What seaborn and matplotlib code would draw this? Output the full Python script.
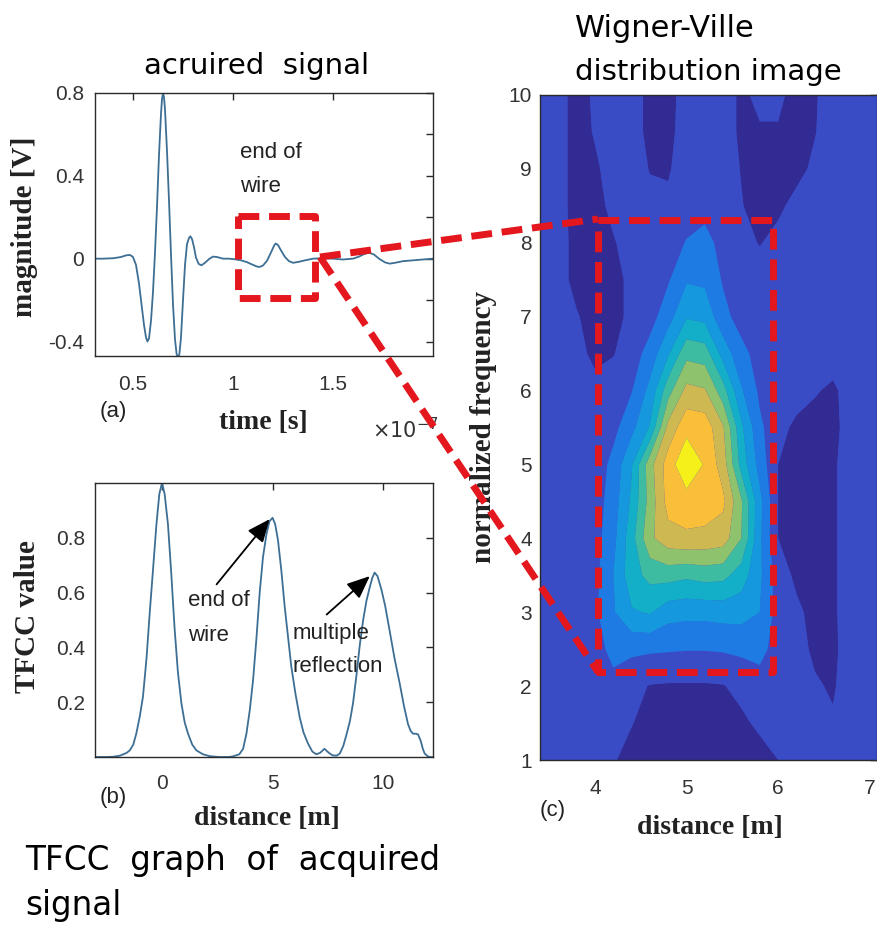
import numpy as np
import matplotlib
matplotlib.use("Agg")
import matplotlib.pyplot as plt
import seaborn as sns
from matplotlib.lines import Line2D

# ---------------- data ----------------
signal_time = [0.31, 0.35, 0.40, 0.44, 0.465, 0.485, 0.50, 0.515, 0.53, 0.545,
               0.555, 0.565, 0.572, 0.58, 0.59, 0.60, 0.61, 0.62, 0.63, 0.64,
               0.645, 0.65, 0.655, 0.66, 0.67, 0.68, 0.69, 0.70, 0.71, 0.718,
               0.725, 0.732, 0.74, 0.75, 0.76, 0.77, 0.78, 0.787, 0.795, 0.805,
               0.815, 0.828, 0.842, 0.86, 0.88, 0.90, 0.92, 0.95, 0.98, 1.01,
               1.04, 1.07, 1.10, 1.12, 1.133, 1.15, 1.17, 1.19, 1.205, 1.213,
               1.225, 1.24, 1.26, 1.28, 1.30, 1.33, 1.36, 1.40, 1.45, 1.50,
               1.55, 1.60, 1.63, 1.655, 1.68, 1.705, 1.73, 1.76, 1.783, 1.81,
               1.85, 1.90, 1.95, 2.00]
signal_mag = [0.0, 0.0, 0.002, 0.008, 0.016, 0.018, 0.008, -0.03, -0.12, -0.24,
              -0.32, -0.38, -0.40, -0.385, -0.30, -0.16, 0.03, 0.25, 0.50, 0.70,
              0.77, 0.80, 0.78, 0.72, 0.52, 0.28, 0.02, -0.22, -0.39, -0.46,
              -0.48, -0.46, -0.38, -0.20, -0.03, 0.07, 0.10, 0.108, 0.095, 0.055,
              0.005, -0.025, -0.032, -0.02, -0.002, 0.01, 0.008, 0.0, 0.0, -0.003,
              -0.008, -0.017, -0.03, -0.038, -0.04, -0.033, -0.01, 0.03, 0.062, 0.073,
              0.066, 0.04, 0.008, -0.012, -0.02, -0.015, -0.008, 0.0, 0.002, 0.0,
              -0.004, 0.0, 0.01, 0.022, 0.029, 0.02, 0.0, -0.018, -0.024, -0.02,
              -0.012, -0.008, -0.004, 0.0]

tfcc_distance = [-3.0, -2.5, -2.2, -1.9, -1.6, -1.46, -1.3, -1.16, -1.0, -0.86,
                 -0.7, -0.56, -0.4, -0.25, -0.12, 0.0, 0.12, 0.27, 0.42, 0.57,
                 0.72, 0.88, 1.03, 1.18, 1.37, 1.56, 1.85, 2.16, 2.6, 3.0,
                 3.2, 3.5, 3.67, 3.82, 3.97, 4.12, 4.27, 4.42, 4.57, 4.72,
                 4.86, 5.0, 5.12, 5.25, 5.4, 5.55, 5.7, 5.85, 6.04, 6.23,
                 6.4, 6.6, 6.8, 6.98, 7.15, 7.35, 7.55, 7.72, 7.9, 8.04,
                 8.2, 8.34, 8.5, 8.64, 8.8, 8.95, 9.1, 9.25, 9.4, 9.52,
                 9.62, 9.75, 9.93, 10.1, 10.3, 10.52, 10.75, 10.95, 11.13, 11.25,
                 11.36, 11.47, 11.58, 11.7, 11.8, 11.88, 12.0, 12.1, 12.25]
tfcc_value = [0.0, 0.0, 0.001, 0.005, 0.015, 0.024, 0.045, 0.086, 0.15, 0.22,
              0.36, 0.52, 0.69, 0.85, 0.96, 1.0, 0.96, 0.85, 0.67, 0.47,
              0.31, 0.195, 0.125, 0.085, 0.045, 0.024, 0.01, 0.003, 0.0, 0.0,
              0.002, 0.01, 0.03, 0.085, 0.17, 0.28, 0.43, 0.6, 0.73, 0.81,
              0.86, 0.873, 0.85, 0.79, 0.68, 0.55, 0.44, 0.33, 0.23, 0.145,
              0.09, 0.05, 0.02, 0.01, 0.015, 0.03, 0.015, 0.006, 0.005, 0.012,
              0.04, 0.08, 0.13, 0.195, 0.3, 0.41, 0.5, 0.57, 0.62, 0.655,
              0.673, 0.66, 0.61, 0.55, 0.46, 0.36, 0.27, 0.185, 0.12, 0.095,
              0.085, 0.085, 0.083, 0.06, 0.03, 0.013, 0.004, 0.0, 0.0]

wv_distance = [3.4, 3.6, 3.8, 4.0, 4.2, 4.4, 4.6, 4.8, 5.0, 5.2,
               5.4, 5.6, 5.8, 6.0, 6.2, 6.4, 6.6, 6.8, 7.1]
wv_frequency = [1.0, 1.5, 2.0, 2.5, 3.0, 3.5, 4.0, 4.5, 5.0, 5.5,
                6.0, 6.5, 7.0, 7.5, 8.0, 8.5, 9.0, 9.5, 10.0]
# contour level index of the Wigner-Ville image (rows: frequency, cols: distance)
wv_level = [
    [1.5, 1.5, 1.5, 1.5, 1.1, 0.6, 0.5, 0.5, 0.5, 0.5, 0.5, 0.5, 0.6, 1.0, 1.5, 1.5, 1.5, 1.5, 1.5],
    [1.5, 1.5, 1.5, 1.5, 1.5, 1.05, 0.6, 0.5, 0.5, 0.5, 0.6, 0.8, 1.2, 1.5, 1.5, 1.5, 1.1, 1.5, 1.5],
    [1.5, 1.5, 1.5, 1.5, 1.7, 1.3, 0.95, 0.9, 0.9, 0.9, 0.95, 1.3, 1.6, 1.6, 1.3, 1.1, 0.9, 1.5, 1.5],
    [1.5, 1.5, 1.5, 1.6, 2.3, 2.2, 2.15, 2.1, 2.05, 2.05, 2.1, 2.2, 2.3, 1.6, 1.3, 0.85, 0.8, 1.5, 1.5],
    [1.5, 1.5, 1.5, 1.8, 2.9, 3.9, 4.1, 3.4, 3.3, 3.3, 3.4, 3.4, 3.0, 1.6, 1.2, 0.7, 0.85, 1.5, 1.5],
    [1.5, 1.5, 1.5, 1.7, 3.0, 4.6, 5.3, 5.4, 5.2, 5.4, 5.3, 4.5, 3.2, 1.5, 0.8, 0.6, 0.85, 1.5, 1.5],
    [1.5, 1.5, 1.5, 1.6, 2.7, 4.6, 6.8, 7.6, 7.8, 7.7, 7.5, 6.0, 3.2, 1.0, 0.6, 0.55, 0.85, 1.5, 1.5],
    [1.5, 1.5, 1.5, 1.5, 2.5, 4.2, 6.4, 8.4, 8.6, 8.6, 8.2, 6.1, 3.3, 1.0, 0.6, 0.55, 0.85, 1.5, 1.5],
    [1.5, 1.5, 1.5, 1.4, 2.3, 3.9, 6.6, 8.5, 9.8, 8.9, 7.5, 4.6, 2.6, 1.0, 0.6, 0.55, 0.85, 1.5, 1.5],
    [1.5, 1.5, 1.5, 1.5, 1.7, 2.7, 4.1, 7.3, 8.7, 8.6, 7.1, 4.2, 2.2, 1.3, 0.8, 0.6, 0.7, 1.5, 1.5],
    [1.5, 1.5, 1.5, 1.4, 1.5, 1.95, 3.3, 5.6, 7.3, 7.1, 5.4, 3.1, 1.8, 1.5, 1.4, 1.1, 0.8, 1.5, 1.5],
    [1.5, 1.5, 1.4, 0.7, 0.95, 1.5, 2.4, 3.9, 5.7, 5.5, 3.6, 2.3, 1.6, 1.5, 1.5, 1.5, 1.5, 1.5, 1.5],
    [1.5, 1.5, 1.1, 0.5, 0.6, 1.3, 1.6, 2.6, 3.9, 3.7, 2.3, 1.6, 1.5, 1.5, 1.5, 1.5, 1.5, 1.5, 1.5],
    [1.5, 1.5, 0.6, 0.45, 0.6, 1.3, 1.6, 1.9, 2.9, 2.8, 1.9, 1.6, 1.5, 1.5, 1.5, 1.5, 1.5, 1.5, 1.5],
    [1.5, 1.5, 0.6, 0.5, 0.9, 1.5, 1.5, 1.6, 2.05, 2.2, 1.8, 1.3, 0.95, 1.3, 1.5, 1.5, 1.5, 1.5, 1.5],
    [1.5, 1.5, 0.5, 0.6, 1.3, 1.5, 1.3, 1.2, 1.6, 1.8, 1.5, 1.05, 0.6, 0.8, 1.3, 1.5, 1.5, 1.5, 1.5],
    [1.5, 1.5, 0.5, 0.8, 1.5, 1.5, 0.95, 0.9, 1.5, 1.5, 1.5, 0.95, 0.6, 0.6, 0.7, 1.2, 1.5, 1.5, 1.5],
    [1.5, 1.5, 0.5, 1.1, 1.5, 1.5, 0.7, 0.7, 1.5, 1.5, 1.5, 0.8, 0.9, 0.9, 0.6, 0.95, 1.5, 1.5, 1.5],
    [1.5, 1.5, 0.5, 1.2, 1.5, 1.5, 0.7, 0.6, 1.5, 1.5, 1.5, 0.8, 1.25, 1.25, 0.6, 0.9, 1.5, 1.5, 1.5],
]
band_colors = ["#332b94", "#3a4bc6", "#1f7be4", "#1598dd", "#13afc9",
               "#3ebca2", "#8ec26c", "#cdb851", "#f9bf38", "#f5f01a"]

signal_yticks = [-0.4, -0.2, 0.0, 0.2, 0.4, 0.6, 0.8]
signal_yticklabels = ["-0.4", "", "0", "", "0.4", "", "0.8"]
signal_xticks = [0.5, 1.0, 1.5]
signal_xticklabels = ["0.5", "1", "1.5"]
tfcc_yticks = [0.2, 0.4, 0.6, 0.8]
tfcc_xticks = [0, 5, 10]
wv_xticks = [4, 5, 6, 7]
wv_yticks = list(range(1, 11))

# ---------------- figure ----------------
sns.set_theme(style="white")
plt.rcParams["font.family"] = ["Liberation Sans", "DejaVu Sans"]

W, H = 877, 938
fig = plt.figure(figsize=(W / 100, H / 100), dpi=100)
fig.patch.set_facecolor("white")


def fx(px):
    return px / W


def fy(py):
    return 1 - py / H


def box(l, t, r, b):
    return [fx(l), fy(b), (r - l) / W, (b - t) / H]


LINE = "#3d6e94"
TICKC = "#333333"
SERIF = dict(family="Liberation Serif", weight="bold", color="#222222")


def style_axes(ax, xpad, ypad):
    for s in ax.spines.values():
        s.set_visible(True)
        s.set_color("#2a2a2a")
        s.set_linewidth(1.0)
    ax.tick_params(direction="in", top=True, right=True, length=5, width=1,
                   color="#2a2a2a", labelsize=15, labelcolor=TICKC)
    ax.tick_params(axis="x", pad=xpad)
    ax.tick_params(axis="y", pad=ypad)
    ax.set_xlabel("")
    ax.set_ylabel("")


# (a) acquired signal
ax_a = fig.add_axes(box(95, 93, 433, 356))
sns.lineplot(x=signal_time, y=signal_mag, ax=ax_a, color=LINE, lw=1.3,
             estimator=None, sort=False)
ax_a.set_xlim(0.31, 2.0)
ax_a.set_ylim(-0.47, 0.8)
ax_a.set_yticks(signal_yticks)
ax_a.set_yticklabels(signal_yticklabels)
ax_a.set_xticks(signal_xticks)
ax_a.set_xticklabels(signal_xticklabels)
style_axes(ax_a, 14, 8)
fig.text(fx(240), fy(152), "end of", fontsize=16, ha="left", va="center", color="#222222")
fig.text(fx(240), fy(186), "wire", fontsize=16, ha="left", va="center", color="#222222")

# (b) TFCC graph
ax_b = fig.add_axes(box(95, 483, 433, 757))
sns.lineplot(x=tfcc_distance, y=tfcc_value, ax=ax_b, color=LINE, lw=1.3,
             estimator=None, sort=False)
ax_b.set_xlim(-3.03, 12.26)
ax_b.set_ylim(0, 1.0)
ax_b.set_yticks(tfcc_yticks)
ax_b.set_xticks(tfcc_xticks)
style_axes(ax_b, 12, 7)
arrow_kw = dict(arrowstyle="-|>,head_length=0.7,head_width=0.3", color="black",
                lw=1.3, mutation_scale=20, shrinkA=0, shrinkB=0)
ax_b.annotate("", xy=(4.87, 0.868), xytext=(2.47, 0.63), arrowprops=arrow_kw)
ax_b.annotate("", xy=(9.4, 0.66), xytext=(7.45, 0.52), arrowprops=arrow_kw)
fig.text(fx(188), fy(600), "end of", fontsize=16, ha="left", va="center", color="#222222")
fig.text(fx(188), fy(635), "wire", fontsize=16, ha="left", va="center", color="#222222")
fig.text(fx(293), fy(633), "multiple", fontsize=16, ha="left", va="center", color="#222222")
fig.text(fx(293), fy(667), "reflection", fontsize=16, ha="left", va="center", color="#222222")

# (c) Wigner-Ville distribution
ax_c = fig.add_axes(box(540, 95, 877, 760))
ax_c.set_facecolor(band_colors[1])
ax_c.contourf(wv_distance, wv_frequency, np.array(wv_level),
              levels=np.arange(0, 11), colors=band_colors, antialiased=True)
ax_c.set_xlim(3.4, 7.08)
ax_c.set_ylim(1, 10)
ax_c.set_xticks(wv_xticks)
ax_c.set_yticks(wv_yticks)
style_axes(ax_c, 14, 6)
ax_c.grid(False)

# axis labels & panel letters
fig.text(fx(263), fy(422), "time [s]", fontsize=20, ha="center", va="center", **SERIF)
fig.text(fx(25), fy(227), "magnitude [V]", fontsize=21, rotation=90, ha="center", va="center", **SERIF)
fig.text(fx(267), fy(818), "distance [m]", fontsize=20, ha="center", va="center", **SERIF)
fig.text(fx(28), fy(617), "TFCC value", fontsize=21, rotation=90, ha="center", va="center", **SERIF)
fig.text(fx(710), fy(827), "distance [m]", fontsize=20, ha="center", va="center", **SERIF)
fig.text(fx(484), fy(427), "normalized frequency", fontsize=21, rotation=90, ha="center", va="center", **SERIF)
fig.text(fx(113), fy(412), "(a)", fontsize=16, ha="center", va="center", color="#222222")
fig.text(fx(113), fy(797), "(b)", fontsize=16, ha="center", va="center", color="#222222")
fig.text(fx(553), fy(810), "(c)", fontsize=16, ha="center", va="center", color="#222222")
fig.text(fx(372), fy(430), r"$\times10^{-7}$", fontsize=15, ha="left", va="center", color="#333333")

# captions
CAP = dict(family="DejaVu Sans", color="black")
fig.text(fx(257), fy(74), "acruired  signal", fontsize=21, ha="center", va="baseline", **CAP)
fig.text(fx(575), fy(37), "Wigner-Ville", fontsize=22, ha="left", va="baseline", **CAP)
fig.text(fx(575), fy(80), "distribution image", fontsize=21, ha="left", va="baseline", **CAP)
fig.text(fx(25), fy(870), "TFCC  graph  of  acquired", fontsize=23.5, ha="left", va="baseline", **CAP)
fig.text(fx(25), fy(915), "signal", fontsize=23.5, ha="left", va="baseline", **CAP)

# red dashed highlight boxes and connectors
RED = "#e3171d"


def red_path(pts):
    fig.add_artist(Line2D([fx(p[0]) for p in pts], [fy(p[1]) for p in pts],
                          transform=fig.transFigure, color=RED, lw=5,
                          linestyle=(0, (3.0, 1.4)), dash_capstyle="butt",
                          solid_joinstyle="miter", zorder=20))


red_path([(238, 216), (315, 216), (315, 298), (238, 298), (238, 216)])
red_path([(598, 220), (773, 220), (773, 672), (598, 672), (598, 220)])
red_path([(320, 257), (598, 219)])
red_path([(320, 257), (598, 672)])

fig.savefig("out.png", dpi=100)
